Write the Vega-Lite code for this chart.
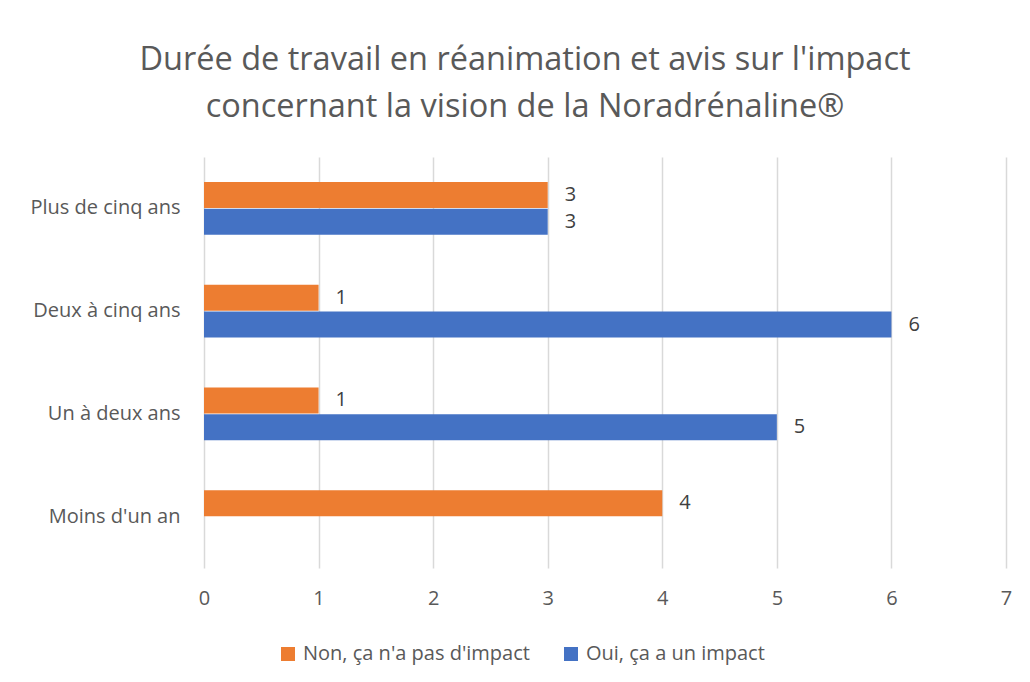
{
  "$schema": "https://vega.github.io/schema/vega-lite/v6.json",
  "width": 802,
  "height": 411,
  "autosize": "none",
  "padding": {"left": 204, "top": 157, "right": 24, "bottom": 114},
  "background": "white",
  "config": {"view": {"stroke": null}},
  "title": {
    "text": ["Durée de travail en réanimation et avis sur l'impact", "concernant la vision de la Noradrénaline®"],
    "anchor": "middle",
    "frame": "group",
    "dx": -80,
    "offset": 34,
    "font": "Open Sans",
    "fontSize": 32.5,
    "fontWeight": "normal",
    "color": "#595959",
    "lineHeight": 47
  },
  "data": {
    "values": [
      {"duree": "Plus de cinq ans", "avis": "Non, ça n'a pas d'impact", "n": 3},
      {"duree": "Plus de cinq ans", "avis": "Oui, ça a un impact", "n": 3},
      {"duree": "Deux à cinq ans", "avis": "Non, ça n'a pas d'impact", "n": 1},
      {"duree": "Deux à cinq ans", "avis": "Oui, ça a un impact", "n": 6},
      {"duree": "Un à deux ans", "avis": "Non, ça n'a pas d'impact", "n": 1},
      {"duree": "Un à deux ans", "avis": "Oui, ça a un impact", "n": 5},
      {"duree": "Moins d'un an", "avis": "Non, ça n'a pas d'impact", "n": 4}
    ]
  },
  "encoding": {
    "y": {
      "field": "duree",
      "type": "nominal",
      "sort": ["Plus de cinq ans", "Deux à cinq ans", "Un à deux ans", "Moins d'un an"],
      "scale": {"paddingInner": 0.485, "paddingOuter": 0.2425},
      "axis": {
        "title": null,
        "domain": false,
        "ticks": false,
        "grid": false,
        "labelFont": "Open Sans",
        "labelFontSize": 20,
        "labelColor": "#595959",
        "labelPadding": 24,
        "labelLimit": 0
      }
    },
    "yOffset": {
      "field": "avis",
      "type": "nominal",
      "sort": ["Non, ça n'a pas d'impact", "Oui, ça a un impact"],
      "scale": {"domain": ["Non, ça n'a pas d'impact", "Oui, ça a un impact"], "paddingInner": 0.03}
    },
    "x": {
      "field": "n",
      "type": "quantitative",
      "scale": {"domain": [0, 7], "nice": false},
      "axis": {
        "title": null,
        "values": [0, 1, 2, 3, 4, 5, 6, 7],
        "domain": false,
        "ticks": false,
        "grid": true,
        "gridColor": "#d9d9d9",
        "gridWidth": 1.5,
        "labelFlush": false,
        "labelFont": "Open Sans",
        "labelFontSize": 20,
        "labelColor": "#595959",
        "labelPadding": 20
      }
    }
  },
  "layer": [
    {
      "mark": {"type": "bar"},
      "encoding": {
        "color": {
          "field": "avis",
          "type": "nominal",
          "scale": {"domain": ["Non, ça n'a pas d'impact", "Oui, ça a un impact"], "range": ["#ED7D31", "#4472C4"]},
          "legend": {
            "title": null,
            "orient": "none",
            "legendX": 74,
            "legendY": 487,
            "direction": "horizontal",
            "symbolType": "square",
            "symbolSize": 196,
            "symbolStrokeWidth": 0,
            "labelFont": "Open Sans",
            "labelFontSize": 20,
            "labelColor": "#595959",
            "labelOffset": 5,
            "labelLimit": 0,
            "columnPadding": 31
          }
        }
      }
    },
    {
      "mark": {"type": "text", "align": "left", "baseline": "middle", "dx": 17, "font": "Open Sans", "fontSize": 20, "color": "#404040"},
      "encoding": {
        "text": {"field": "n", "type": "quantitative"}
      }
    }
  ]
}
